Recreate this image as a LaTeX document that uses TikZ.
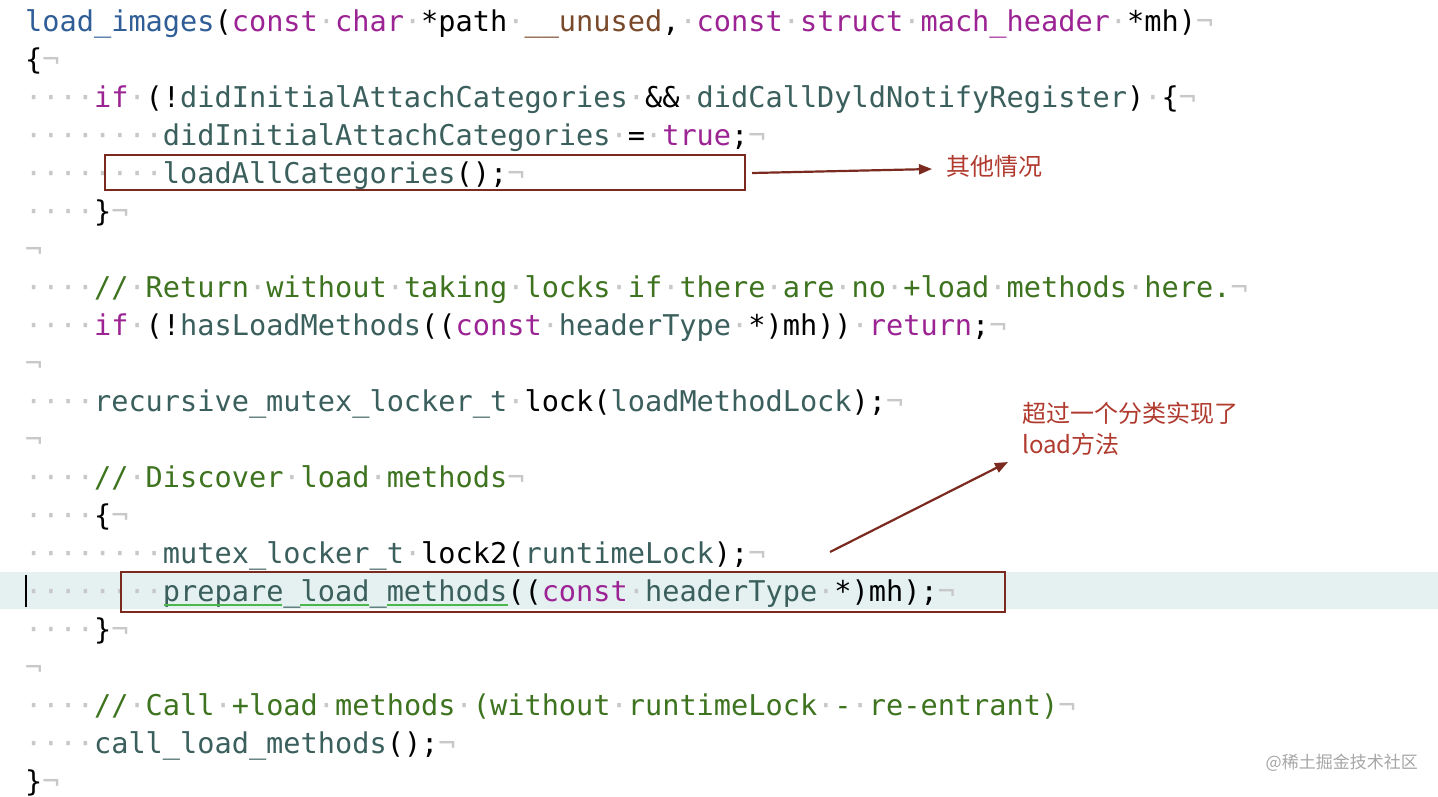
\documentclass[tikz,border=0pt]{standalone}
\usepackage{fontspec}
\setmonofont{DejaVu Sans Mono}
\newfontfamily\cjk{Noto Sans CJK SC}
\usetikzlibrary{arrows.meta}
\definecolor{kw}{HTML}{9B2393}
\definecolor{fnc}{HTML}{2F5D95}
\definecolor{idc}{HTML}{3A5F5C}
\definecolor{cmc}{HTML}{3E7420}
\definecolor{brc}{HTML}{78492A}
\definecolor{wsc}{HTML}{C8C8C8}
\definecolor{boxc}{HTML}{7B2A1F}
\definecolor{lblc}{HTML}{B03A2E}
\definecolor{hl}{HTML}{E5F1F1}
\newcommand\kw[1]{\textcolor{kw}{#1}}
\newcommand\fn[1]{\textcolor{fnc}{#1}}
\newcommand\id[1]{\textcolor{idc}{#1}}
\newcommand\cm[1]{\textcolor{cmc}{#1}}
\newcommand\br[1]{\textcolor{brc}{#1}}
\newcommand\dt{\textcolor{wsc}{·}}
\newcommand\nl{\textcolor{wsc}{¬}}
\newcommand\ff{\dt\dt\dt\dt}
\begin{document}
\begin{tikzpicture}[x=1pt,y=-1pt,
  code/.style={anchor=base west,inner sep=0pt,font=\fontsize{28.6}{30}\ttfamily},
  box/.style={draw=boxc,line width=2.5pt},
  arr/.style={draw=boxc,line width=2.2pt,-{Triangle[length=13pt,width=10pt]}},
  lbl/.style={anchor=west,inner sep=0pt,text=lblc,font=\fontsize{24}{31}\cjk,align=left}]
\useasboundingbox (0,0) rectangle (1438,796);
\fill[white] (0,0) rectangle (1438,796);
\fill[hl] (0,572) rectangle (1438,609);
\draw[black,line width=1.5pt] (26,575) -- (26,607);
\foreach \i/\t in {
1/{\fn{load\_images}(\kw{const}\dt\kw{char}\dt*path\dt\br{\_\_unused},\dt\kw{const}\dt\kw{struct}\dt\kw{mach\_header}\dt*mh)\nl},
2/{\{\nl},
3/{\ff\kw{if}\dt(!\id{didInitialAttachCategories}\dt\&\&\dt\id{didCallDyldNotifyRegister})\dt\{\nl},
4/{\ff\ff\id{didInitialAttachCategories}\dt=\dt\kw{true};\nl},
5/{\ff\ff\id{loadAllCategories}();\nl},
6/{\ff\}\nl},
7/{\nl},
8/{\ff\cm{//}\dt\cm{Return}\dt\cm{without}\dt\cm{taking}\dt\cm{locks}\dt\cm{if}\dt\cm{there}\dt\cm{are}\dt\cm{no}\dt\cm{+load}\dt\cm{methods}\dt\cm{here.}\nl},
9/{\ff\kw{if}\dt(!\id{hasLoadMethods}((\kw{const}\dt\id{headerType}\dt*)mh))\dt\kw{return};\nl},
10/{\nl},
11/{\ff\id{recursive\_mutex\_locker\_t}\dt lock(\id{loadMethodLock});\nl},
12/{\nl},
13/{\ff\cm{//}\dt\cm{Discover}\dt\cm{load}\dt\cm{methods}\nl},
14/{\ff\{\nl},
15/{\ff\ff\id{mutex\_locker\_t}\dt lock2(\id{runtimeLock});\nl},
16/{\ff\ff\id{prepare\_load\_methods}((\kw{const}\dt\id{headerType}\dt*)mh);\nl},
17/{\ff\}\nl},
18/{\nl},
19/{\ff\cm{//}\dt\cm{Call}\dt\cm{+load}\dt\cm{methods}\dt\cm{(without}\dt\cm{runtimeLock}\dt\cm{-}\dt\cm{re-entrant)}\nl},
20/{\ff\id{call\_load\_methods}();\nl},
21/{\}\nl}}
  \node[code] (l\i) at (25,{31+38*(\i-1)}) {\t};
% green underlines
\draw[green!60!black!70,line width=2pt] (164,605) -- (282,605) (300,605) -- (369,605) (387,605) -- (508,605);
% boxes
\node[box,minimum width=640pt,minimum height=35pt,inner sep=0pt] (b1) at (425,172.5) {};
\node[box,minimum width=884pt,minimum height=40pt,inner sep=0pt] (b2) at (563,592) {};
\node[lbl] (t1) at (946,166) {其他情况};
\node[lbl,anchor=north west] (t2) at (1022,402) {超过一个分类实现了\\load方法};
\coordinate (a1s) at (752,173);
\coordinate (a1e) at (932,169);
\coordinate (a2s) at (830,552);
\coordinate (a2e) at (1008,462);
\draw[arr] (a1s) -- (a1e);
\draw[arr] (a2s) -- (a2e);
\node[anchor=east,inner sep=0pt,text=gray!70,font=\fontsize{17}{20}\cjk] (wm) at (1418,763) {@稀土掘金技术社区};
\end{tikzpicture}
\end{document}
